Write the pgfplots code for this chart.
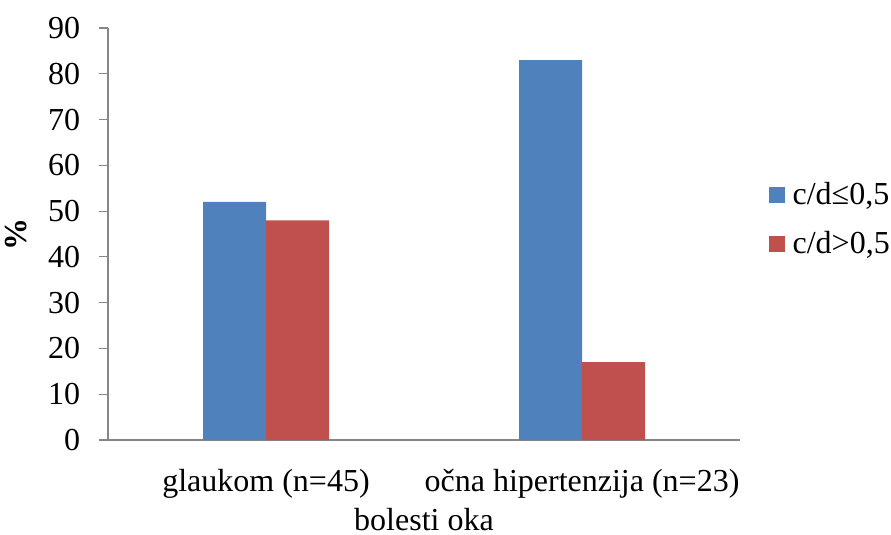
\documentclass[border=0pt]{standalone}
\usepackage{pgfplots}
\pgfplotsset{compat=1.18}
\usepackage{fontspec}
\setmainfont{Liberation Serif}
\definecolor{cblue}{HTML}{4F81BD}
\definecolor{cred}{HTML}{C0504D}
\definecolor{axgray}{HTML}{868686}
\begin{document}
\fontsize{32}{38}\selectfont
\begin{tikzpicture}
\useasboundingbox (0pt,0pt) rectangle (891pt,535pt);
\begin{axis}[
  at={(108pt,95pt)}, anchor=south west,
  scale only axis, width=632pt, height=412pt,
  ybar=0pt, bar width=63pt,
  xmin=-0.5, xmax=1.5, ymin=0, ymax=90,
  ytick={0,10,...,90},
  xtick={0,1}, xticklabels={glaukom (n=45), očna hipertenzija (n=23)},
  axis x line=bottom, axis y line=left,
  axis line style={draw=axgray, line width=1.2pt, -},
  x axis line style={-}, y axis line style={-},
  major x tick style={draw=none},
  ytick style={draw=axgray, line width=1.2pt},
  tick align=outside, major tick length=9pt,
  /pgf/number format/assume math mode=true,
  tick label style={font=\fontsize{32}{38}\selectfont},
  yticklabel style={xshift=-8pt},
  xticklabel style={yshift=-9pt},
  xlabel={bolesti oka}, ylabel={\textbf{\%}},
  label style={font=\fontsize{32}{38}\selectfont},
  xlabel style={inner sep=1pt, yshift=2pt},
  ylabel style={yshift=0pt},
  legend style={at={(1.045,0.534)}, anchor=west, draw=none, fill=none,
    font=\fontsize{32}{38}\selectfont, row sep=22pt, inner sep=0pt,
    nodes={inner sep=0pt}, column sep=8pt},
  legend cell align=left,
  legend image code/.code={\fill[#1] (0pt,-8pt) rectangle (16pt,8pt);},
]
\addplot[fill=cblue, draw=none] coordinates {(0,52) (1,83)};
\addplot[fill=cred, draw=none] coordinates {(0,48) (1,17)};
\legend{{c/d≤0,5}, {c/d>0,5}}
\end{axis}
\end{tikzpicture}
\end{document}
